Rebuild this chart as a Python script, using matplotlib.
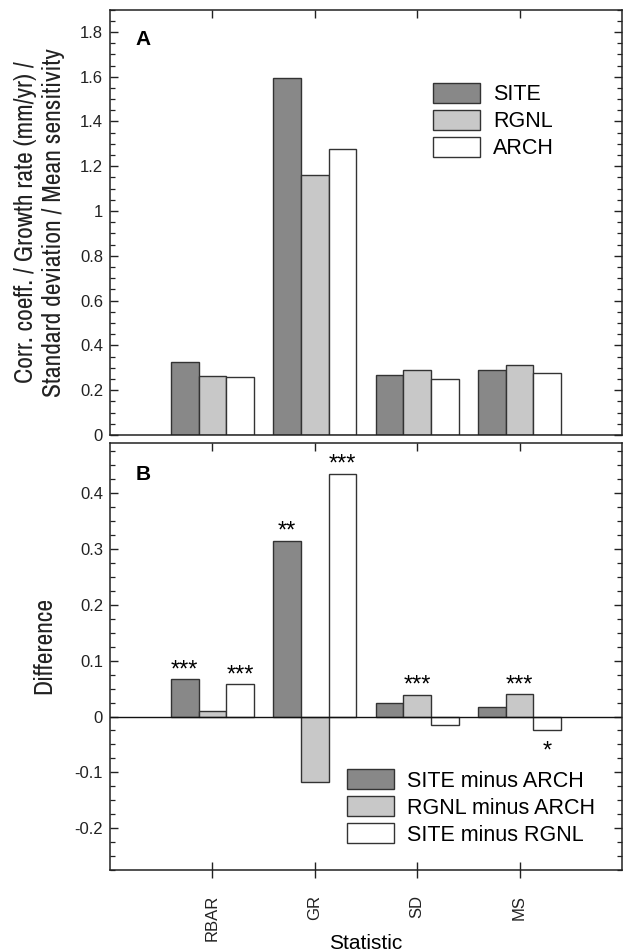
import numpy as np
import matplotlib.pyplot as plt
from matplotlib import font_manager
from matplotlib.ticker import MultipleLocator

plt.rcParams['font.family'] = ['Liberation Sans', 'DejaVu Sans']

stats = ["RBAR", "GR", "SD", "MS"]

# panel A
site = [0.325, 1.593, 0.270, 0.292]
rgnl = [0.265, 1.160, 0.288, 0.314]
arch = [0.257, 1.278, 0.248, 0.276]

# panel B
site_arch = [0.0675, 0.315, 0.024, 0.017]
rgnl_arch = [0.009, -0.118, 0.039, 0.0395]
site_rgnl = [0.0585, 0.435, -0.015, -0.0245]
sig_site_arch = ["***", "**", "", ""]
sig_rgnl_arch = ["", "", "***", "***"]
sig_site_rgnl = ["***", "***", "", "*"]

fills = ["#888888", "#c8c8c8", "#ffffff"]
edge = "#333333"
w = 0.27
x = np.arange(1, len(stats) + 1)
offs = [-w, 0, w]

# y labels in the original use a narrow face; use one if there is any
cond = [f.name for f in font_manager.fontManager.ttflist
        if "Narrow" in f.name or "Condensed" in f.name]
if cond:
    ylab_font = dict(family=[cond[0], "Liberation Sans"], fontsize=18.5,
                     fontweight="light", color="#222222")
else:
    ylab_font = dict(family=["Liberation Sans"], fontsize=12.5)

fig = plt.figure(figsize=(6.42, 9.52), dpi=100)
axA = fig.add_axes([0.1713, 0.5431, 0.7975, 0.4469])
axB = fig.add_axes([0.1713, 0.0861, 0.7975, 0.4486])


def style_axis(ax):
    for s in ax.spines.values():
        s.set_linewidth(1.1)
        s.set_color("#222222")
    ax.set_xlim(0, 5)
    ax.set_xticks(x)
    ax.tick_params(axis="y", which="major", direction="in", length=6, width=1,
                   left=True, right=True, labelsize=12, colors="#222222", pad=5)
    ax.tick_params(axis="y", which="minor", direction="in", length=3.5, width=0.9,
                   left=True, right=True, colors="#222222")


# ---- panel A
style_axis(axA)
hA = []
for vals, off, c, lab in zip([site, rgnl, arch], offs, fills, ["SITE", "RGNL", "ARCH"]):
    b = axA.bar(x + off, vals, width=w, color=c, edgecolor=edge, linewidth=1, label=lab)
    hA.append(b)
axA.set_ylim(0, 1.9)
axA.yaxis.set_minor_locator(MultipleLocator(0.05))
axA.set_yticks([0, 0.2, 0.4, 0.6, 0.8, 1.0, 1.2, 1.4, 1.6, 1.8])
axA.set_yticklabels(["0", "0.2", "0.4", "0.6", "0.8", "1", "1.2", "1.4", "1.6", "1.8"])
axA.tick_params(axis="x", direction="in", length=6, width=1, top=True, bottom=False,
                labelbottom=False, colors="#222222")
axA.set_ylabel("Corr. coeff. / Growth rate (mm/yr) /\nStandard deviation / Mean sensitivity",
               linespacing=1.25, **ylab_font)
axA.yaxis.set_label_coords(-0.088, 0.5)
axA.text(0.05, 0.93, "A", transform=axA.transAxes, fontsize=15, fontweight="bold",
         va="center", ha="left")
axA.legend(handles=hA, loc="upper left", bbox_to_anchor=(0.631, 0.828),
           frameon=False, fontsize=15.5, handlelength=2.2, handleheight=1.05,
           labelspacing=0.22, handletextpad=0.6, borderpad=0, borderaxespad=0)

# ---- panel B
style_axis(axB)
hB = []
labsB = ["SITE minus ARCH", "RGNL minus ARCH", "SITE minus RGNL"]
for vals, off, c, lab, sig in zip([site_arch, rgnl_arch, site_rgnl], offs, fills, labsB,
                                  [sig_site_arch, sig_rgnl_arch, sig_site_rgnl]):
    b = axB.bar(x + off, vals, width=w, color=c, edgecolor=edge, linewidth=1, label=lab)
    hB.append(b)
    for xi, v, s in zip(x + off, vals, sig):
        if not s:
            continue
        dy = 2.0 if v >= 0 else -20.0
        axB.annotate(s, (xi, v), xytext=(0, dy), textcoords="offset points",
                     ha="center", va="baseline", fontsize=17)
axB.axhline(0, color="#111111", linewidth=1)
axB.set_ylim(-0.275, 0.49)
axB.yaxis.set_minor_locator(MultipleLocator(0.025))
axB.set_yticks([-0.2, -0.1, 0, 0.1, 0.2, 0.3, 0.4])
axB.set_yticklabels(["-0.2", "-0.1", "0", "0.1", "0.2", "0.3", "0.4"])
axB.tick_params(axis="x", direction="inout", length=12, width=1, top=False, bottom=True,
                colors="#222222", pad=12)
axB.set_xticklabels(stats, rotation=90, fontsize=12)
# short inward ticks on the top edge of panel B
axB2 = axB.secondary_xaxis("top")
axB2.set_xticks(x)
axB2.tick_params(direction="in", length=6, width=1, labeltop=False, colors="#222222")
axB2.spines["top"].set_visible(False)
axB.set_ylabel("Difference", **ylab_font)
axB.yaxis.set_label_coords(-0.106, 0.525)
axB.set_xlabel("Statistic", fontsize=15)
axB.xaxis.set_label_coords(0.5, -0.150)
axB.text(0.05, 0.925, "B", transform=axB.transAxes, fontsize=15, fontweight="bold",
         va="center", ha="left")
axB.legend(handles=hB, loc="upper left", bbox_to_anchor=(0.463, 0.236),
           frameon=False, fontsize=15.5, handlelength=2.2, handleheight=1.05,
           labelspacing=0.22, handletextpad=0.6, borderpad=0, borderaxespad=0)

fig.savefig("out.png", dpi=100)
